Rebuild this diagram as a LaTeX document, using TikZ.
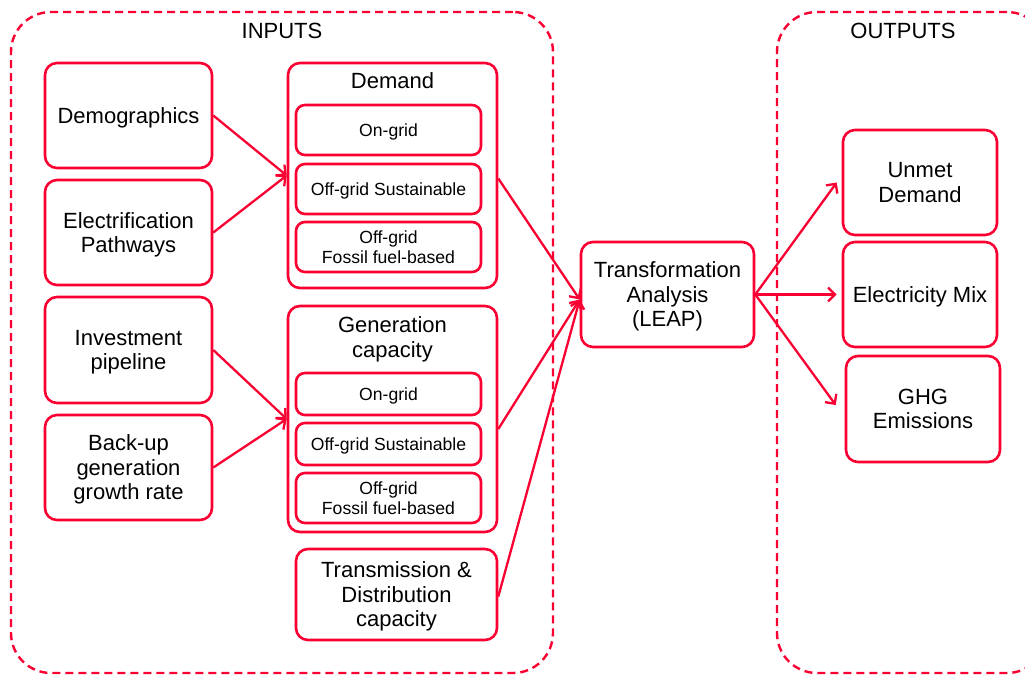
\documentclass[tikz,border=0pt]{standalone}
\usepackage{fontspec}
\setmainfont{Liberation Sans}
\usetikzlibrary{arrows.meta,calc}
\definecolor{myred}{RGB}{250,0,50}
\tikzset{
  big/.style={font=\fontsize{22}{24.5}\selectfont},
  small/.style={font=\fontsize{17.6}{19.5}\selectfont},
  boxx/.style={draw=myred, line width=2.6pt, rounded corners=12pt, align=center, inner sep=0pt, text depth=0pt},
  subbox/.style={draw=myred, line width=2.6pt, rounded corners=9pt, align=center, inner sep=0pt, small, text depth=0pt},
  group/.style={draw=myred, line width=2.4pt, dash pattern=on 8pt off 5pt, rounded corners=40pt},
  conn/.style={draw=myred, line width=2.3pt, -{Straight Barb[length=7pt,width=14pt,line width=2.3pt]}},
}
\begin{document}
\begin{tikzpicture}[x=1pt,y=-1pt]
\useasboundingbox (0,0) rectangle (1025,675);
\clip (0,0) rectangle (1025,675);
% groups
\node[group, minimum width=542pt, minimum height=661pt] (inputs) at (282,342.5) {};
\node[group, minimum width=270pt, minimum height=661pt] (outputs) at (912,342.5) {};
\node[big, text depth=0pt] (inT) at (282,31) {INPUTS};
\node[big, text depth=0pt] (outT) at (903,31) {OUTPUTS};
% left boxes
\node[boxx, big, minimum width=167pt, minimum height=105pt] (demo) at (128.5,115.5) {Demographics};
\node[boxx, big, minimum width=167pt, minimum height=105pt] (elec) at (128.5,232.5) {Electrification\\Pathways};
\node[boxx, big, minimum width=167pt, minimum height=106pt] (inv) at (128.5,350) {Investment\\pipeline};
\node[boxx, big, minimum width=167pt, minimum height=105pt] (back) at (128.5,467.5) {Back-up\\generation\\growth rate};
% demand
\node[boxx, minimum width=209pt, minimum height=225pt] (demand) at (392.5,175.5) {};
\node[big, text depth=0pt] (demandT) at (392.5,81) {Demand};
\node[subbox, minimum width=185pt, minimum height=50pt] (d1) at (388.5,130) {On-grid};
\node[subbox, minimum width=185pt, minimum height=50pt] (d2) at (388.5,189) {Off-grid Sustainable};
\node[subbox, minimum width=185pt, minimum height=50pt] (d3) at (388.5,247) {Off-grid\\Fossil fuel-based};
% generation
\node[boxx, minimum width=209pt, minimum height=226pt] (gen) at (392.5,419) {};
\node[big, align=center, text depth=0pt] (genT) at (392.5,337) {Generation\\capacity};
\node[subbox, minimum width=185pt, minimum height=42pt] (g1) at (388.5,394) {On-grid};
\node[subbox, minimum width=185pt, minimum height=42pt] (g2) at (388.5,444) {Off-grid Sustainable};
\node[subbox, minimum width=185pt, minimum height=50pt] (g3) at (388.5,498) {Off-grid\\Fossil fuel-based};
% transmission
\node[boxx, big, minimum width=201pt, minimum height=91pt] (trd) at (396.5,594.5) {Transmission \&\\Distribution\\capacity};
% transformation
\node[boxx, big, minimum width=173pt, minimum height=105pt] (trans) at (667.5,294.5) {Transformation\\Analysis\\(LEAP)};
% outputs
\node[boxx, big, minimum width=154pt, minimum height=105pt] (unmet) at (920,182.5) {Unmet\\Demand};
\node[boxx, big, minimum width=154pt, minimum height=105pt] (mix) at (920,294.5) {Electricity Mix};
\node[boxx, big, minimum width=154pt, minimum height=106pt] (ghg) at (923,409) {GHG\\Emissions};
% connectors
\coordinate (tin) at ($(trans.west)+(0,5)$);
\draw[conn] (demo.east) -- (demand.west);
\draw[conn] (elec.east) -- (demand.west);
\draw[conn] (inv.east) -- (gen.west);
\draw[conn] (back.east) -- (gen.west);
\draw[conn] ([yshift=-3pt]demand.east) -- (tin);
\draw[conn] ([yshift=-10pt]gen.east) -- (tin);
\draw[conn] ([yshift=-2pt]trd.east) -- (tin);
\draw[conn] (trans.east) -- ([xshift=-5pt]unmet.west);
\draw[conn] (trans.east) -- ([xshift=-5pt]mix.west);
\draw[conn] (trans.east) -- ([xshift=-9pt,yshift=4pt]ghg.west);
\end{tikzpicture}
\end{document}
